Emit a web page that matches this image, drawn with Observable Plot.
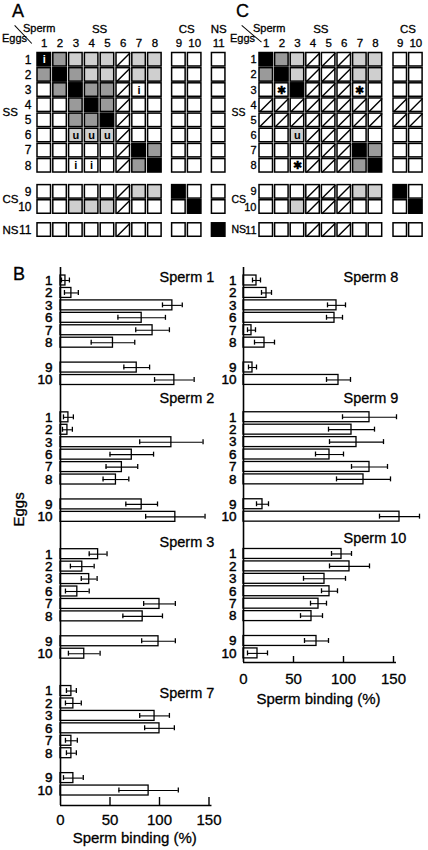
<!DOCTYPE html>
<html><head><meta charset="utf-8">
<script src="https://cdn.jsdelivr.net/npm/d3@7"></script>
<script src="https://cdn.jsdelivr.net/npm/@observablehq/plot@0.6"></script>
<style>
body{margin:0;background:#fff;}
#fig{position:relative;width:428px;height:850px;overflow:hidden;font-family:"Liberation Sans",Arial,sans-serif;color:#000;background:#fff;}
#fig svg{position:absolute;left:0;top:0;background:transparent;}
#fig .lab{position:absolute;line-height:1;white-space:nowrap;-webkit-text-stroke:0.3px #000;}
</style></head>
<body><div id="fig"></div>
<script>
// ================= DATA =================
// Panel A : sperm-binding matrix (eggs x sperm)
const aSperm = ["1","2","3","4","5","6","7","8","9","10","11"];
const aSpermGroup = ["SS","SS","SS","SS","SS","SS","SS","SS","CS","CS","NS"];
const aEggs = ["1","2","3","4","5","6","7","8","9","10","11"];
const aEggGroup = ["SS","SS","SS","SS","SS","SS","SS","SS","CS","CS","NS"];
// k = strong, m = medium, l = weak, w = none, d = not tested
const aCells = [
  "k m l l l d l l w w w",
  "m k m l l d l l w w w",
  "w m k m m d w w w w w",
  "w w m k m d w w w w w",
  "w w m m k d w w w w w",
  "w w l l l d w w w w w",
  "w w w w w d k m w w w",
  "w w w w w d m k w w w",
  "w w w w w d l l k w w",
  "w w l l l d w w w k w",
  "w w w w w d w w w w k"
];
const aNotes = [["1","1","i"],["3","7","i"],["6","3","u"],["6","4","u"],["6","5","u"],["8","3","i"],["8","4","i"]];

// Panel C
const cSperm = ["1","2","3","4","5","6","7","8","9","10"];
const cSpermGroup = ["SS","SS","SS","SS","SS","SS","SS","SS","CS","CS"];
const cEggs = ["1","2","3","4","5","6","7","8","9","10","11"];
const cEggGroup = ["SS","SS","SS","SS","SS","SS","SS","SS","CS","CS","NS"];
const cCells = [
  "k m l d d d l l w w",
  "m k l d d d l l w w",
  "w w k d d d w w w w",
  "d d d d d d d d d d",
  "d d d d d d d d d d",
  "w w l d d d w w w w",
  "w w w d d d k m w w",
  "w w w d d d m k w w",
  "w w w d d d l l k w",
  "w w l d d d w w w k",
  "w w w d d d w w w w"
];
const cNotes = [["3","2","\u2731"],["3","7","\u2731"],["6","3","u"],["8","3","\u2731"]];

// Panel B : sperm binding (%) with error
const bEggs = ["1","2","3","6","7","8","9","10"];
const bEggGroup = ["SS","SS","SS","SS","SS","SS","CS","CS"];
const leftSperm = ["1","2","3","7"];
const rightSperm = ["8","9","10"];
const bind1 = [5, 11, 113, 82, 93, 53, 77, 115];
const err1  = [4, 7, 10, 24, 17, 22, 13, 20];
const bind2 = [8, 7, 112, 72, 62, 56, 82, 116];
const err2  = [5, 5, 32, 22, 16, 13, 16, 30];
const bind3 = [38, 22, 29, 17, 100, 83, 99, 24];
const err3  = [9, 12, 8, 12, 16, 20, 17, 16];
const bind7 = [11, 13, 95, 100, 11, 11, 13, 89];
const err7  = [5, 8, 15, 15, 6, 5, 10, 30];
const bind8 = [13, 23, 93, 91, 8, 21, 9, 95];
const err8  = [4, 5, 9, 8, 4, 10, 4, 12];
const bind9 = [126, 108, 113, 86, 126, 120, 19, 156];
const err9  = [27, 23, 27, 14, 18, 27, 6, 20];
const bind10 = [98, 106, 81, 86, 75, 68, 73, 14];
const err10  = [10, 20, 21, 8, 8, 11, 12, 10];
const xTicks = [0, 50, 100, 150];
const xTitle = "Sperm binding (%)";
const yTitle = "Eggs";

// ================= DRAWING =================
const fig = document.getElementById("fig");
const FONT = "Liberation Sans, Arial, Helvetica, sans-serif";
const fills = {w: "#ffffff", l: "#cfcfcf", m: "#9a9a9a", k: "#000000", d: "#ffffff"};
const INK = {fill: "#000", stroke: "#000", strokeWidth: 0.3};

function lab(t, x, y, size, anchor = "start", extra = "") {
  const d = document.createElement("div");
  d.className = "lab";
  d.textContent = t;
  const tx = anchor === "middle" ? "-50%" : anchor === "end" ? "-100%" : "0";
  d.style.cssText += `left:${x}px;top:${y - 0.8465 * size}px;font-size:${size}px;transform:translateX(${tx});${extra}`;
  fig.appendChild(d);
}
function slash(x1, y1, x2, y2) {
  const d = document.createElement("div");
  const len = Math.hypot(x2 - x1, y2 - y1), ang = Math.atan2(y2 - y1, x2 - x1) * 180 / Math.PI;
  d.style.cssText = `position:absolute;left:${x1}px;top:${y1}px;width:${len}px;height:0;border-top:1.3px solid #000;transform-origin:0 0;transform:rotate(${ang}deg);`;
  fig.appendChild(d);
}

function gridPlot(sperm, spermGroup, eggs, eggGroup, cells, notes, L) {
  const colGroups = [...new Set(spermGroup)], rowGroups = [...new Set(eggGroup)];
  const colPos = sperm.map((s, i) => i + L.colGap * colGroups.indexOf(spermGroup[i]));
  const rowPos = eggs.map((e, i) => i + L.rowGap[rowGroups.indexOf(eggGroup[i])]);
  const W = L.cw, H = L.ch;
  const data = [];
  eggs.forEach((e, r) => cells[r].split(" ").forEach((code, c) =>
    data.push({egg: e, sperm: sperm[c], code, x: colPos[c], y: rowPos[r]})));
  const noteData = notes.map(([e, s, t]) => {
    const cell = data.find(d => d.egg === e && d.sperm === s);
    return {...cell, t};
  });
  const gCol = colGroups.map(g => {
    const p = colPos.filter((_, i) => spermGroup[i] === g);
    return {g, x: (Math.min(...p) + Math.max(...p) + W) / 2};
  });
  const gRow = rowGroups.map(g => {
    const p = rowPos.filter((_, i) => eggGroup[i] === g);
    return {g, y: (Math.min(...p) + Math.max(...p) + H) / 2};
  });
  return Plot.plot({
    width: 428, height: 250, margin: 0,
    style: {background: "transparent", fontFamily: FONT, overflow: "visible"},
    x: {type: "linear", domain: [0, 1], range: [L.x0, L.x0 + L.px], axis: null},
    y: {type: "linear", domain: [0, 1], range: [L.y0, L.y0 + L.py], axis: null},
    marks: [
      Plot.rect(data, {x1: "x", x2: d => d.x + W, y1: "y", y2: d => d.y + H,
        fill: d => fills[d.code], stroke: "#000", strokeWidth: 1.5}),
      Plot.link(data.filter(d => d.code === "d"), {x1: "x", y1: d => d.y + H, x2: d => d.x + W, y2: "y",
        stroke: "#000", strokeWidth: 1.4}),
      Plot.text(noteData.filter(d => d.code === "k"), {x: d => d.x + W / 2, y: d => d.y + H / 2, text: "t",
        fill: "#fff", fontSize: 11, fontWeight: "bold"}),
      Plot.text(noteData.filter(d => d.code !== "k"), {x: d => d.x + W / 2, y: d => d.y + H / 2, text: "t",
        fill: "#000", fontSize: 11, fontWeight: "bold"}),
      Plot.text(sperm, {x: (d, i) => colPos[i] + W / 2, y: () => 0, dy: L.colNumDy, text: d => d,
        fontSize: 11.5, lineAnchor: "middle", ...INK}),
      Plot.text(eggs, {x: () => 0, y: (d, i) => rowPos[i] + H / 2, dx: L.rowNumDx, text: d => d,
        textAnchor: "end", fontSize: L.rowFont, lineAnchor: "middle", ...INK}),
      Plot.text(gCol, {x: d => d.x, y: () => 0, dy: L.groupDy, text: "g", fontSize: 11.5, lineAnchor: "middle", ...INK}),
      Plot.text(gRow, {frameAnchor: "left", y: "y", dx: L.groupDx, text: "g", textAnchor: "start",
        fontSize: L.groupFont, lineAnchor: "middle", ...INK})
    ]
  });
}

function barPlot(spermList, binds, errs, L) {
  const eGroups = [...new Set(bEggGroup)];
  const data = [];
  spermList.forEach((s, g) => bEggs.forEach((e, i) => data.push({
    sperm: s, egg: e, v: binds[g][i], e: errs[g][i],
    slot: g * L.groupStep + i + eGroups.indexOf(bEggGroup[i])
  })));
  const last = (spermList.length - 1) * L.groupStep + bEggs.length;
  const mid = last / 2;
  return Plot.plot({
    width: 428, height: 850, margin: 0,
    style: {background: "transparent", fontFamily: FONT, overflow: "visible"},
    x: {type: "linear", domain: [0, 150], range: [L.x0, L.x0 + 150 * L.kx], axis: null},
    y: {type: "linear", domain: [0, 1], range: [L.y0, L.y0 + L.pitch], axis: null},
    marks: [
      Plot.rect(data, {x1: 0, x2: "v", y1: d => d.slot - 0.4, y2: d => d.slot + 0.4,
        fill: "#fff", stroke: "#000", strokeWidth: 1.3}),
      Plot.ruleY(data, {y: "slot", x1: d => d.v - d.e, x2: d => d.v + d.e, stroke: "#000", strokeWidth: 1.1}),
      Plot.ruleX(data, {x: d => d.v - d.e, y1: d => d.slot - 0.2, y2: d => d.slot + 0.2, stroke: "#000", strokeWidth: 1.3}),
      Plot.ruleX(data, {x: d => d.v + d.e, y1: d => d.slot - 0.2, y2: d => d.slot + 0.2, stroke: "#000", strokeWidth: 1.3}),
      Plot.ruleX([0], {y1: L.top, y2: L.bottom, stroke: "#000", strokeWidth: 1.6}),
      Plot.ruleY([L.bottom], {x1: 0, x2: 153, stroke: "#000", strokeWidth: 1.4}),
      Plot.ruleX(xTicks.slice(1), {x: d => d, y1: L.bottom, y2: L.bottom - L.tick / L.pitch, stroke: "#000", strokeWidth: 1.4}),
      Plot.text(xTicks, {x: d => d, y: () => L.bottom, dy: L.tickDy, text: d => String(d), fontSize: 15, lineAnchor: "middle", ...INK}),
      Plot.text([xTitle], {x: () => 75, y: () => L.bottom, dy: L.titleDy, text: d => d, fontSize: 15, lineAnchor: "middle", ...INK}),
      Plot.text(data, {x: () => 0, y: "slot", text: "egg", dx: L.eggDx, textAnchor: "end", fontSize: 13.5, lineAnchor: "middle",
        fill: "#000", stroke: "#000", strokeWidth: 0.45}),
      Plot.text(spermList, {x: () => 100, y: (s, g) => g * L.groupStep + L.labelOff[g], text: s => "Sperm " + s,
        textAnchor: "start", fontSize: 14.5, lineAnchor: "middle", ...INK}),
      ...(L.yTitle ? [Plot.text([yTitle], {frameAnchor: "left", y: () => mid, dx: L.yTitleDx, dy: L.yTitleDy,
        rotate: -90, text: d => d, fontSize: 15, lineAnchor: "middle", ...INK})] : [])
    ]
  });
}

// Panel A
fig.appendChild(gridPlot(aSperm, aSpermGroup, aEggs, aEggGroup, aCells, aNotes, {
  x0: 37, px: 15.8, y0: 52.5, py: 15.15, colGap: 0.52, rowGap: [0, 0.72, 1.24],
  cw: 0.855, ch: 0.89, colNumDy: -9.5, rowNumDx: -6, groupDy: -24, groupDx: 2,
  rowFont: 12, groupFont: 11.5
}));
// Panel C
fig.appendChild(gridPlot(cSperm, cSpermGroup, cEggs, cEggGroup, cCells, cNotes, {
  x0: 259, px: 15.6, y0: 52.5, py: 15.15, colGap: 0.59, rowGap: [0, 0.72, 1.24],
  cw: 0.865, ch: 0.89, colNumDy: -9.5, rowNumDx: -3, groupDy: -24, groupDx: 231,
  rowFont: 11, groupFont: 10.5
}));
// Panel B left & right
fig.appendChild(barPlot(leftSperm, [bind1, bind2, bind3, bind7], [err1, err2, err3, err7], {
  x0: 60, kx: 0.99, y0: 280, pitch: 12.44, groupStep: 11, top: -1.05, bottom: 42.2, tick: 8,
  tickDy: 15, titleDy: 33, eggDx: -8, labelOff: [-0.24, -1.5, -0.94, 0.2],
  yTitle: true, yTitleDx: 19, yTitleDy: -9
}));
fig.appendChild(barPlot(rightSperm, [bind8, bind9, bind10], [err8, err9, err10], {
  x0: 243, kx: 1.0, y0: 280, pitch: 12.43, groupStep: 11, top: -1.05, bottom: 30.73, tick: 6,
  tickDy: 17, titleDy: 37, eggDx: -7, labelOff: [-0.24, -1.5, -1.26]
}));

// Panel letters & corner headers
lab("A", 12, 17, 18);
lab("C", 236, 17, 18);
lab("B", 13, 280, 18);
lab("Sperm", 23, 32, 11);
lab("Eggs", 2, 42.5, 11);
slash(15, 25, 32, 43);
lab("Sperm", 253, 32, 11);
lab("Eggs", 230, 42.5, 11);
slash(242, 25, 262, 42);
</script>
</body></html>
